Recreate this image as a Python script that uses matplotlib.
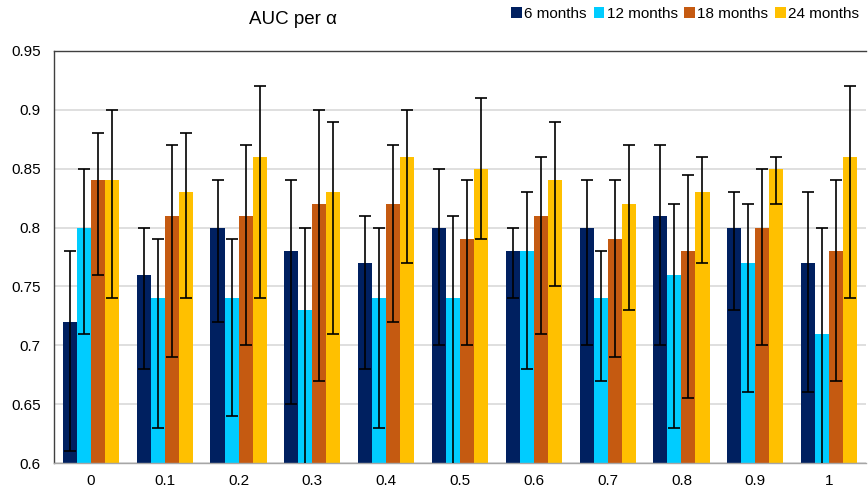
import matplotlib
matplotlib.use("Agg")
import matplotlib.pyplot as plt
import numpy as np
from matplotlib.patches import Patch

plt.rcParams['font.family'] = ['Liberation Sans', 'DejaVu Sans']

categories = ["0", "0.1", "0.2", "0.3", "0.4", "0.5", "0.6", "0.7", "0.8", "0.9", "1"]
series_names = ["6 months", "12 months", "18 months", "24 months"]
colors = ["#002060", "#00CCFF", "#C55A11", "#FFC000"]

auc_6 = [0.72, 0.76, 0.80, 0.78, 0.77, 0.80, 0.78, 0.80, 0.81, 0.80, 0.77]
low_6 = [0.61, 0.68, 0.72, 0.65, 0.68, 0.70, 0.74, 0.70, 0.70, 0.73, 0.66]
high_6 = [0.78, 0.80, 0.84, 0.84, 0.81, 0.85, 0.80, 0.84, 0.87, 0.83, 0.83]

auc_12 = [0.80, 0.74, 0.74, 0.73, 0.74, 0.74, 0.78, 0.74, 0.76, 0.77, 0.71]
low_12 = [0.71, 0.63, 0.64, 0.58, 0.63, 0.58, 0.68, 0.67, 0.63, 0.66, 0.58]
high_12 = [0.85, 0.79, 0.79, 0.80, 0.80, 0.81, 0.83, 0.78, 0.82, 0.82, 0.80]

auc_18 = [0.84, 0.81, 0.81, 0.82, 0.82, 0.79, 0.81, 0.79, 0.78, 0.80, 0.78]
low_18 = [0.76, 0.69, 0.70, 0.67, 0.72, 0.70, 0.71, 0.69, 0.655, 0.70, 0.67]
high_18 = [0.88, 0.87, 0.87, 0.90, 0.87, 0.84, 0.86, 0.84, 0.845, 0.85, 0.84]

auc_24 = [0.84, 0.83, 0.86, 0.83, 0.86, 0.85, 0.84, 0.82, 0.83, 0.85, 0.86]
low_24 = [0.74, 0.74, 0.74, 0.71, 0.77, 0.79, 0.75, 0.73, 0.77, 0.82, 0.74]
high_24 = [0.90, 0.88, 0.92, 0.89, 0.90, 0.91, 0.89, 0.87, 0.86, 0.86, 0.92]

y_ticks = [0.6, 0.65, 0.7, 0.75, 0.8, 0.85, 0.9, 0.95]
y_tick_labels = ["0.6", "0.65", "0.7", "0.75", "0.8", "0.85", "0.9", "0.95"]

values = [auc_6, auc_12, auc_18, auc_24]
lows = [low_6, low_12, low_18, low_24]
highs = [high_6, high_12, high_18, high_24]

fig = plt.figure(figsize=(8.68, 4.90), dpi=100)
ax = fig.add_axes([54/868, 27/490, 812/868, (463-51)/490])

x = np.arange(len(categories))
w = 0.19
for i in range(4):
    v = np.array(values[i])
    lo = v - np.array(lows[i])
    hi = np.array(highs[i]) - v
    pos = x + (i - 1.5) * w
    ax.bar(pos, v, width=w, color=colors[i], zorder=2)
    ax.errorbar(pos, v, yerr=[lo, hi], fmt='none', ecolor='black',
                elinewidth=1.2, capsize=4, capthick=1.2, zorder=3)

ax.set_ylim(0.6, 0.95)
ax.set_xlim(-0.5, len(categories) - 0.5)
ax.set_yticks(y_ticks)
ax.set_yticklabels(y_tick_labels)
ax.set_xticks(x)
ax.set_xticklabels(categories)
ax.tick_params(axis='both', length=0, labelsize=11, colors='#000000')
ax.tick_params(axis='y', pad=9.5)
ax.tick_params(axis='x', pad=8)
ax.yaxis.grid(True, color='#D9D9D9', linewidth=1.2, zorder=0)
ax.set_axisbelow(True)
ax.spines['right'].set_visible(False)
ax.spines['left'].set_color('#404040')
ax.spines['top'].set_color('#404040')
ax.spines['bottom'].set_color('#A6A6A6')
for s in ['left', 'top', 'bottom']:
    ax.spines[s].set_linewidth(1.0)

fig.text(293/868, 1 - 20/490, "AUC per α", ha='center', va='center', fontsize=13.5)

handles = [Patch(facecolor=c) for c in colors]
fig.legend(handles, series_names, loc='center right', bbox_to_anchor=(0.99, 1 - 14/490),
           ncol=4, frameon=False, fontsize=11, handlelength=0.7, handleheight=0.7,
           handletextpad=0.15, columnspacing=0.45, borderaxespad=0, borderpad=0)

fig.savefig("out.png", dpi=100)
